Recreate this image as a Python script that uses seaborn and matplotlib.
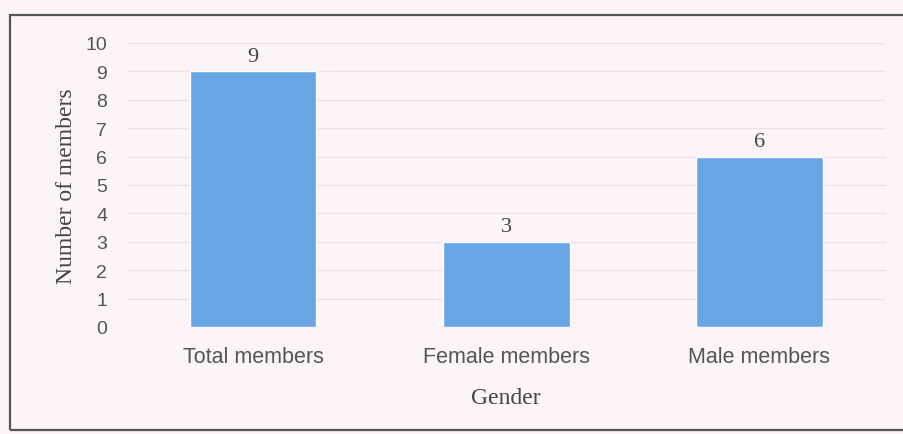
import pandas as pd
import seaborn as sns
import matplotlib.pyplot as plt
from matplotlib.patches import Rectangle

# data
categories = ['Total members', 'Female members', 'Male members']
members = [9, 3, 6]

df = pd.DataFrame({'Gender': categories, 'Members': members})

bg = '#fcf4f9'
sns.set_theme(style='white')
plt.rcParams['font.family'] = ['Liberation Sans', 'DejaVu Sans']

fig = plt.figure(figsize=(9.04, 4.35), dpi=100, facecolor=bg)
ax = fig.add_axes([0.140, 0.246, 0.840, 0.653], facecolor=bg)

sns.barplot(data=df, x='Gender', y='Members', color='#68a5e4', width=0.5,
            saturation=1, ax=ax, zorder=3)

# label on top of each bar
for i, v in enumerate(members):
    ax.text(i, v + 0.2, str(v), ha='center', va='bottom', fontsize=16,
            family='Liberation Serif', color='#444444')

ax.set_ylim(0, 10)
ax.set_xlim(-0.5, 2.5)
ax.set_yticks(range(0, 11))
ax.grid(axis='y', color='#ebe3e9', linewidth=1, zorder=0)
for s in ax.spines.values():
    s.set_visible(False)
ax.tick_params(axis='both', length=0, colors='#555555')
ax.tick_params(axis='x', pad=14, labelsize=15.5)
ax.tick_params(axis='y', pad=14, labelsize=14)

ax.set_xlabel('Gender', fontsize=17, family='Liberation Serif', color='#444444', labelpad=14)
ax.set_ylabel('Number of members', fontsize=17, family='Liberation Serif', color='#444444', labelpad=6)

# outer frame of the figure box
fig.patches.append(Rectangle((0.011, 0.010), 1.0, 0.953, transform=fig.transFigure,
                             fill=False, edgecolor='#555555', linewidth=1.6))

plt.savefig('out.png', dpi=100, facecolor=bg)
